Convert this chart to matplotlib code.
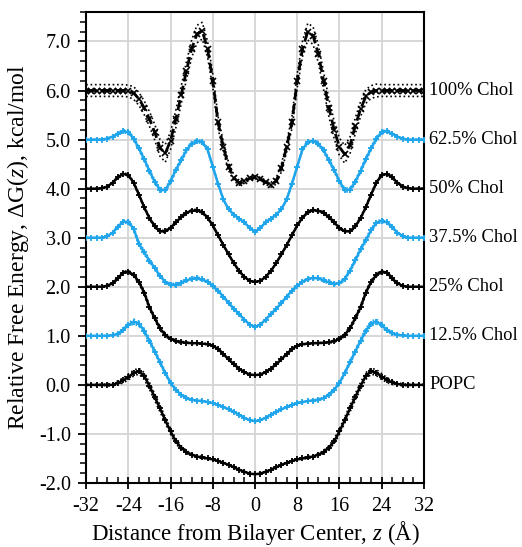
import numpy as np
import matplotlib
matplotlib.use('Agg')
import matplotlib.pyplot as plt
from matplotlib.ticker import MultipleLocator
from matplotlib.transforms import blended_transform_factory

plt.rcParams['font.family'] = ['Liberation Serif', 'DejaVu Serif']
plt.rcParams['mathtext.fontset'] = 'custom'
plt.rcParams['mathtext.rm'] = 'Liberation Serif'
plt.rcParams['mathtext.it'] = 'Liberation Serif:italic'
plt.rcParams['axes.unicode_minus'] = False

# z grid (Angstrom), 1 A steps from -32 to 32
z = np.arange(-32, 33)

# Free energy profiles (already shifted by the plot offsets)
popc = [0.00, 0.00, 0.00, 0.00, 0.00, 0.00, 0.04, 0.09, 0.16, 0.24, 0.28, 0.18, -0.02,
        -0.25, -0.48, -0.72, -0.95, -1.15, -1.28, -1.37, -1.42, -1.46, -1.48, -1.50, -1.52,
        -1.55, -1.59, -1.63, -1.68, -1.73, -1.77, -1.81, -1.82,
        -1.81, -1.77, -1.73, -1.68, -1.63, -1.59, -1.55, -1.52, -1.50, -1.48, -1.46, -1.42,
        -1.37, -1.28, -1.15, -0.95, -0.72, -0.48, -0.25, -0.02, 0.18, 0.28, 0.25, 0.17,
        0.10, 0.05, 0.02, 0.00, 0.00, 0.00, 0.00, 0.00]
err_popc = [0.01, 0.01, 0.01, 0.01, 0.02, 0.03, 0.04, 0.05, 0.06, 0.06, 0.06, 0.07, 0.07,
            0.07, 0.07, 0.06, 0.06, 0.05, 0.04, 0.03, 0.02, 0.02, 0.02, 0.01, 0.01,
            0.01, 0.01, 0.00, 0.00, 0.00, 0.00, 0.00, 0.00,
            0.00, 0.00, 0.00, 0.00, 0.00, 0.01, 0.01, 0.01, 0.01, 0.02, 0.02, 0.02,
            0.03, 0.04, 0.05, 0.06, 0.06, 0.07, 0.07, 0.07, 0.07, 0.06, 0.06, 0.06,
            0.05, 0.04, 0.03, 0.02, 0.01, 0.01, 0.01, 0.01]

chol125 = [1.00, 1.00, 1.00, 1.00, 1.00, 1.01, 1.04, 1.12, 1.22, 1.29, 1.25, 1.10, 0.90,
           0.68, 0.46, 0.24, 0.04, -0.10, -0.20, -0.27, -0.30, -0.32, -0.33, -0.35, -0.37,
           -0.41, -0.45, -0.50, -0.55, -0.61, -0.67, -0.72, -0.74,
           -0.72, -0.67, -0.61, -0.55, -0.50, -0.45, -0.41, -0.37, -0.35, -0.33, -0.32, -0.30,
           -0.27, -0.20, -0.10, 0.04, 0.24, 0.46, 0.68, 0.90, 1.10, 1.25, 1.29, 1.22,
           1.12, 1.05, 1.02, 1.01, 1.00, 1.00, 1.00, 1.00]
err_125 = [0.00, 0.00, 0.00, 0.00, 0.01, 0.01, 0.02, 0.03, 0.04, 0.05, 0.05, 0.05, 0.05,
           0.04, 0.04, 0.03, 0.03, 0.02, 0.02, 0.02, 0.01, 0.01, 0.01, 0.01, 0.01,
           0.01, 0.00, 0.00, 0.00, 0.00, 0.00, 0.00, 0.00,
           0.00, 0.00, 0.00, 0.00, 0.00, 0.00, 0.01, 0.01, 0.01, 0.01, 0.01, 0.01,
           0.02, 0.02, 0.02, 0.03, 0.03, 0.04, 0.04, 0.05, 0.05, 0.05, 0.05, 0.04,
           0.03, 0.02, 0.01, 0.01, 0.00, 0.00, 0.00, 0.00]

chol25 = [2.00, 2.00, 2.00, 2.00, 2.02, 2.07, 2.17, 2.29, 2.31, 2.24, 2.10, 1.88, 1.58,
          1.36, 1.15, 1.02, 0.94, 0.89, 0.87, 0.86, 0.85, 0.85, 0.84, 0.83, 0.80,
          0.73, 0.63, 0.52, 0.42, 0.33, 0.26, 0.21, 0.20,
          0.21, 0.26, 0.33, 0.42, 0.52, 0.63, 0.73, 0.80, 0.83, 0.84, 0.85, 0.85,
          0.86, 0.87, 0.89, 0.94, 1.02, 1.15, 1.36, 1.58, 1.88, 2.10, 2.24, 2.31,
          2.29, 2.17, 2.07, 2.02, 2.00, 2.00, 2.00, 2.00]
err_25 = [0.00, 0.00, 0.00, 0.00, 0.01, 0.01, 0.02, 0.02, 0.02, 0.03, 0.03, 0.04, 0.04,
          0.04, 0.04, 0.03, 0.03, 0.02, 0.02, 0.01, 0.01, 0.01, 0.01, 0.01, 0.01,
          0.01, 0.01, 0.01, 0.00, 0.00, 0.00, 0.00, 0.00,
          0.00, 0.00, 0.00, 0.00, 0.01, 0.01, 0.01, 0.01, 0.01, 0.01, 0.01, 0.01,
          0.01, 0.02, 0.02, 0.03, 0.03, 0.04, 0.04, 0.04, 0.04, 0.03, 0.03, 0.02,
          0.02, 0.02, 0.01, 0.01, 0.00, 0.00, 0.00, 0.00]

chol375 = [3.00, 3.00, 3.00, 3.00, 3.03, 3.10, 3.22, 3.33, 3.32, 3.18, 2.88, 2.70, 2.53,
           2.38, 2.22, 2.10, 2.04, 2.04, 2.08, 2.13, 2.16, 2.17, 2.15, 2.10, 2.02,
           1.92, 1.80, 1.67, 1.55, 1.44, 1.33, 1.23, 1.18,
           1.23, 1.33, 1.44, 1.55, 1.67, 1.80, 1.92, 2.02, 2.10, 2.16, 2.18, 2.17,
           2.13, 2.09, 2.06, 2.07, 2.16, 2.33, 2.54, 2.76, 2.95, 3.15, 3.30, 3.35,
           3.31, 3.22, 3.10, 3.03, 3.00, 3.00, 3.00, 3.00]
err_375 = [0.00, 0.00, 0.00, 0.00, 0.01, 0.01, 0.02, 0.03, 0.03, 0.04, 0.04, 0.04, 0.04,
           0.04, 0.03, 0.03, 0.03, 0.03, 0.03, 0.03, 0.03, 0.03, 0.02, 0.02, 0.02,
           0.01, 0.01, 0.01, 0.00, 0.00, 0.00, 0.00, 0.00,
           0.00, 0.00, 0.00, 0.00, 0.01, 0.01, 0.01, 0.02, 0.02, 0.02, 0.03, 0.03,
           0.03, 0.03, 0.03, 0.03, 0.03, 0.03, 0.04, 0.04, 0.04, 0.04, 0.03, 0.03,
           0.02, 0.02, 0.01, 0.01, 0.00, 0.00, 0.00, 0.00]

chol50 = [4.00, 4.00, 4.00, 4.01, 4.04, 4.12, 4.23, 4.30, 4.28, 4.12, 3.88, 3.62, 3.40,
          3.23, 3.13, 3.13, 3.20, 3.31, 3.42, 3.51, 3.55, 3.56, 3.52, 3.41, 3.25,
          3.05, 2.85, 2.66, 2.48, 2.32, 2.20, 2.12, 2.10,
          2.12, 2.20, 2.32, 2.48, 2.66, 2.85, 3.05, 3.25, 3.41, 3.52, 3.56, 3.55,
          3.51, 3.42, 3.31, 3.20, 3.13, 3.13, 3.23, 3.40, 3.62, 3.88, 4.12, 4.28,
          4.30, 4.23, 4.12, 4.04, 4.01, 4.00, 4.00, 4.00]
err_50 = [0.00, 0.00, 0.00, 0.00, 0.01, 0.01, 0.02, 0.02, 0.02, 0.02, 0.02, 0.02, 0.02,
          0.02, 0.02, 0.02, 0.02, 0.02, 0.02, 0.02, 0.02, 0.02, 0.02, 0.01, 0.01,
          0.01, 0.01, 0.01, 0.00, 0.00, 0.00, 0.00, 0.00,
          0.00, 0.00, 0.00, 0.00, 0.01, 0.01, 0.01, 0.01, 0.01, 0.02, 0.02, 0.02,
          0.02, 0.02, 0.02, 0.02, 0.02, 0.02, 0.02, 0.02, 0.02, 0.02, 0.02, 0.02,
          0.02, 0.02, 0.01, 0.01, 0.00, 0.00, 0.00, 0.00]

chol625 = [5.00, 5.00, 5.00, 5.00, 5.02, 5.06, 5.12, 5.17, 5.15, 5.02, 4.82, 4.60, 4.36,
           4.14, 3.98, 3.97, 4.15, 4.38, 4.58, 4.78, 4.92, 4.97, 4.95, 4.80, 4.45,
           4.10, 3.78, 3.58, 3.47, 3.39, 3.31, 3.20, 3.12,
           3.20, 3.31, 3.39, 3.47, 3.58, 3.78, 4.10, 4.45, 4.80, 4.95, 4.97, 4.92,
           4.78, 4.58, 4.38, 4.15, 3.97, 3.98, 4.14, 4.36, 4.60, 4.82, 5.02, 5.15,
           5.17, 5.12, 5.06, 5.02, 5.00, 5.00, 5.00, 5.00]
err_625 = [0.00, 0.00, 0.00, 0.00, 0.01, 0.01, 0.02, 0.03, 0.03, 0.04, 0.04, 0.04, 0.04,
           0.04, 0.04, 0.04, 0.04, 0.04, 0.04, 0.04, 0.04, 0.03, 0.03, 0.03, 0.02,
           0.02, 0.01, 0.01, 0.00, 0.00, 0.00, 0.00, 0.00,
           0.00, 0.00, 0.00, 0.00, 0.01, 0.01, 0.02, 0.02, 0.03, 0.03, 0.03, 0.04,
           0.04, 0.04, 0.04, 0.04, 0.04, 0.04, 0.04, 0.04, 0.04, 0.04, 0.04, 0.03,
           0.03, 0.02, 0.01, 0.01, 0.00, 0.00, 0.00, 0.00]

chol100 = [6.00, 6.00, 6.00, 6.00, 6.00, 6.00, 6.00, 6.00, 5.99, 5.95, 5.83, 5.65, 5.42,
           5.15, 4.83, 4.72, 4.98, 5.42, 5.90, 6.40, 6.85, 7.15, 7.22, 6.85, 6.20,
           5.35, 4.85, 4.45, 4.22, 4.12, 4.15, 4.21, 4.23,
           4.20, 4.13, 4.08, 4.15, 4.42, 4.85, 5.35, 6.20, 6.85, 7.20, 7.12, 6.75,
           6.20, 5.65, 5.20, 4.85, 4.70, 4.88, 5.28, 5.62, 5.88, 5.97, 6.00, 6.00,
           6.00, 6.00, 6.00, 6.00, 6.00, 6.00, 6.00, 6.00]
err_100 = [0.12, 0.12, 0.12, 0.12, 0.12, 0.12, 0.12, 0.12, 0.12, 0.13, 0.13, 0.14, 0.15,
           0.16, 0.17, 0.18, 0.18, 0.18, 0.18, 0.18, 0.18, 0.18, 0.17, 0.16, 0.14,
           0.12, 0.10, 0.08, 0.06, 0.05, 0.04, 0.03, 0.03,
           0.03, 0.04, 0.05, 0.06, 0.08, 0.10, 0.12, 0.14, 0.16, 0.17, 0.18, 0.18,
           0.18, 0.18, 0.18, 0.18, 0.18, 0.17, 0.16, 0.15, 0.14, 0.13, 0.13, 0.12,
           0.12, 0.12, 0.12, 0.12, 0.12, 0.12, 0.12, 0.12]

curves = [popc, chol125, chol25, chol375, chol50, chol625, chol100]
errors = [err_popc, err_125, err_25, err_375, err_50, err_625, err_100]
names = ['POPC', '12.5% Chol', '25% Chol', '37.5% Chol', '50% Chol', '62.5% Chol', '100% Chol']
offsets = [0, 1, 2, 3, 4, 5, 6]

black = '#000000'
blue = '#1EA5EC'
colors = [black, blue, black, blue, black, blue, black]

fig = plt.figure(figsize=(5.22, 5.47), dpi=100)
ax = fig.add_axes([0.165, 0.117, 0.647, 0.861])

for i, (vals, err) in enumerate(zip(curves, errors)):
    vals = np.array(vals)
    err = np.array(err)
    c = colors[i]
    ax.plot(z, vals + err, ls=':', color=c, lw=1.2, zorder=3)
    ax.plot(z, vals - err, ls=':', color=c, lw=1.2, zorder=3)
    if names[i] == '100% Chol':
        ax.plot(z, vals, ls='--', color=c, lw=2.0, marker='x', ms=4, mew=1.2, zorder=4)
    else:
        ax.plot(z, vals, ls='-', color=c, lw=1.8, marker='+', ms=5, mew=1.3, zorder=4)

trans = blended_transform_factory(ax.transAxes, ax.transData)
for name, off in zip(names, offsets):
    ax.text(1.015, off, name, transform=trans, ha='left', va='center',
            fontsize=13.3, clip_on=False)

ax.set_xlim(-32, 32)
ax.xaxis.set_major_locator(MultipleLocator(8))
ax.xaxis.set_minor_locator(MultipleLocator(2))
ax.yaxis.set_minor_locator(MultipleLocator(0.2))
ax.set_yticks(np.arange(-2, 8, 1.0))
ax.set_yticklabels(['%.1f' % v for v in np.arange(-2, 8, 1.0)])
ax.set_ylim(-2.0, 7.6)

ax.grid(True, which='major', color='#d4d4d4', lw=1.3, zorder=0)
ax.set_axisbelow(True)

ax.tick_params(axis='x', which='major', direction='inout', length=8, width=1.3, labelsize=14.5, pad=6)
ax.tick_params(axis='x', which='minor', direction='in', length=4, width=1.1)
ax.tick_params(axis='y', which='major', direction='out', length=6, width=1.3, labelsize=14.5, pad=5)
ax.tick_params(axis='y', which='minor', direction='out', length=4, width=1.1)
for s in ax.spines.values():
    s.set_linewidth(1.5)

ax.set_xlabel('Distance from Bilayer Center, $z$ (Å)', fontsize=16.5, labelpad=2)
ax.set_ylabel('Relative Free Energy, ΔG($z$), kcal/mol', fontsize=17, labelpad=6)

fig.savefig('out.png', dpi=100)
